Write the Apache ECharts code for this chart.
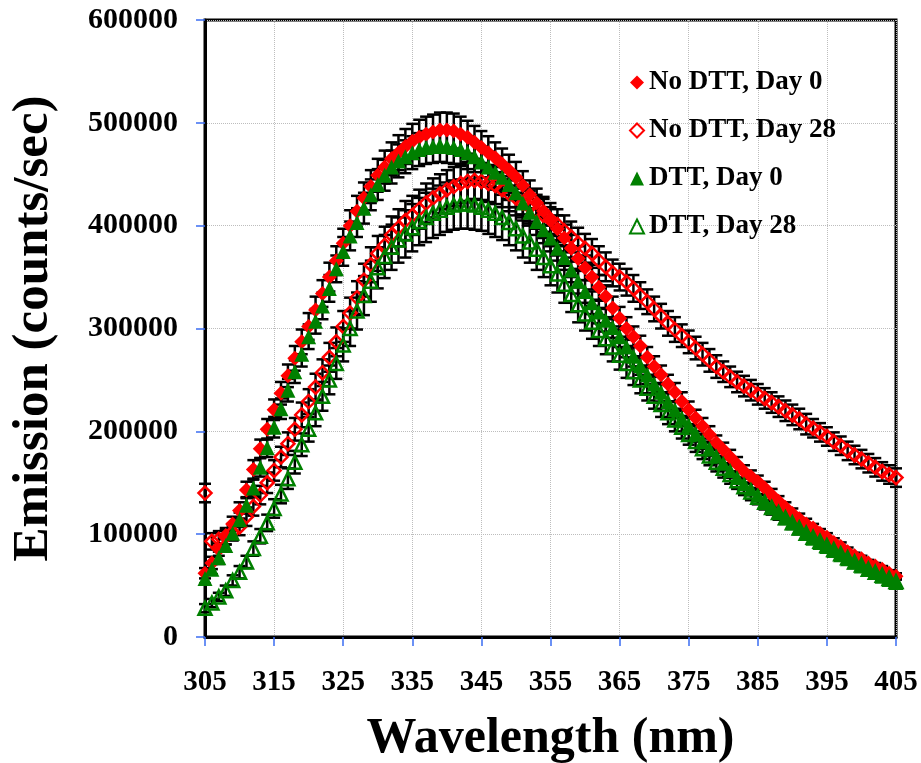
<!DOCTYPE html>
<html>
<head>
<meta charset="utf-8">
<script src="https://cdn.jsdelivr.net/npm/echarts@6/dist/echarts.min.js"></script>
<style>
html,body{margin:0;padding:0;background:#fff;}
#chart{width:921px;height:763px;}
</style>
</head>
<body>
<div id="chart"></div>
<script>
const wavelengths = [305,306,307,308,309,310,311,312,313,314,315,316,317,318,319,320,321,322,323,324,325,326,327,328,329,330,331,332,333,334,335,336,337,338,339,340,341,342,343,344,345,346,347,348,349,350,351,352,353,354,355,356,357,358,359,360,361,362,363,364,365,366,367,368,369,370,371,372,373,374,375,376,377,378,379,380,381,382,383,384,385,386,387,388,389,390,391,392,393,394,395,396,397,398,399,400,401,402,403,404,405];

const noDttDay0 = [62000,72000,85000,97000,110000,
123000,143000,163000,183000,202000,
221000,237000,254000,271000,287000,
302000,318000,334000,350000,366000,
383000,400000,414000,427000,438000,
449000,457000,465000,471000,477000,
482000,486000,489000,491000,493000,
493000,492000,489000,486000,481000,
476000,471000,466000,460000,454000,
447000,439000,430000,422000,414000,
405000,397000,388000,378000,368000,
359000,350000,340000,331000,320000,
310000,300000,292000,283000,272000,
263000,255000,246000,238000,229000,
221000,213000,205000,197000,189000,
182000,175000,168000,161000,156000,
151000,145000,138000,132000,126000,
120000,115000,110000,106000,101000,
97000,92000,88000,83000,79000,
76000,72000,69000,66000,62000,59000];

const noDttDay28 = [140000,93000,95000,98000,102000,
107000,117000,127000,138000,150000,
162000,175000,188000,202000,216000,
229000,243000,257000,272000,287000,
302000,315000,330000,347000,362000,
373000,381000,391000,398000,405000,
410000,416000,422000,427000,431000,
435000,438000,441000,443000,444000,
443000,441000,439000,435000,431000,
427000,422000,418000,414000,410000,
406000,401000,395000,389000,383000,
378000,373000,366000,360000,354000,
350000,345000,339000,332000,326000,
319000,312000,305000,299000,293000,
287000,281000,275000,269000,263000,
258000,253000,248000,244000,240000,
236000,232000,228000,224000,220000,
216000,212000,207000,203000,199000,
195000,190000,186000,181000,177000,
173000,169000,165000,161000,158000,155000];

const dttDay0 = [57000,66000,77000,89000,101000,
114000,128000,145000,165000,184000,
204000,222000,240000,258000,275000,
292000,307000,322000,339000,358000,
375000,390000,403000,417000,430000,
440000,449000,457000,463000,467000,
471000,474000,476000,477000,478000,
477000,476000,474000,471000,467000,
462000,457000,452000,447000,440000,
432000,422000,413000,404000,396000,
388000,378000,369000,357000,346000,
336000,325000,316000,308000,301000,
292000,282000,273000,264000,255000,
246000,238000,229000,221000,213000,
206000,198000,190000,183000,176000,
169000,162000,155000,149000,144000,
138000,132000,127000,121000,116000,
111000,106000,101000,96000,92000,
88000,84000,80000,76000,73000,
69000,66000,63000,59000,56000,53000];

const dttDay28 = [28000,33000,39000,45000,55000,
63000,73000,86000,98000,111000,
125000,139000,154000,170000,187000,
202000,218000,234000,250000,266000,
284000,300000,317000,332000,346000,
359000,370000,379000,386000,392000,
398000,404000,408000,412000,415000,
418000,420000,421000,421000,420000,
418000,415000,412000,408000,403000,
397000,390000,384000,377000,369000,
361000,353000,343000,333000,323000,
314000,306000,298000,290000,282000,
274000,266000,258000,250000,242000,
234000,226000,218000,211000,204000,
197000,190000,183000,176000,170000,
164000,158000,152000,146000,141000,
136000,131000,126000,121000,116000,
111000,106000,101000,97000,93000,
89000,85000,81000,77000,73000,
70000,66000,63000,60000,57000,54000];

const errNoDttDay0 = [5000,6000,6000,7000,7000,
8000,8000,9000,9000,10000,
10000,11000,11000,12000,12000,
13000,13000,13000,14000,14000,
14000,15000,15000,15000,16000,
16000,16000,16000,17000,17000,
17000,17000,17000,17000,17000,
17000,17000,17000,16000,16000,
16000,16000,15000,15000,15000,
15000,14000,14000,14000,14000,
13000,13000,13000,13000,12000,
12000,12000,12000,11000,11000,
11000,11000,10000,10000,10000,
10000,9000,9000,9000,9000,
8000,8000,8000,8000,7000,
7000,7000,7000,6000,6000,
6000,6000,6000,5000,5000,
5000,5000,5000,4000,4000,
4000,4000,4000,4000,3000,
3000,3000,3000,3000,3000,3000];

const errNoDttDay28 = [9000,8000,8000,8000,8000,
8000,9000,9000,9000,10000,
10000,10000,11000,11000,12000,
12000,13000,13000,14000,14000,
15000,15000,16000,16000,17000,
17000,18000,18000,18000,19000,
19000,19000,19000,19000,19000,
19000,19000,19000,19000,18000,
18000,18000,18000,17000,17000,
17000,17000,16000,16000,16000,
16000,15000,15000,15000,15000,
14000,14000,14000,14000,13000,
13000,13000,13000,13000,12000,
12000,12000,12000,12000,11000,
11000,11000,11000,11000,11000,
10000,10000,10000,10000,10000,
10000,10000,10000,10000,10000,
10000,10000,10000,9000,9000,
9000,9000,9000,9000,9000,
9000,9000,9000,9000,9000,9000];

const errDttDay0 = [5000,5000,6000,6000,7000,
7000,8000,8000,9000,9000,
10000,10000,11000,11000,12000,
12000,12000,13000,13000,13000,
14000,14000,14000,15000,15000,
15000,15000,16000,16000,16000,
16000,16000,16000,16000,16000,
16000,16000,16000,16000,15000,
15000,15000,15000,14000,14000,
14000,14000,13000,13000,13000,
13000,12000,12000,12000,12000,
11000,11000,11000,11000,10000,
10000,10000,10000,9000,9000,
9000,9000,9000,8000,8000,
8000,8000,7000,7000,7000,
7000,7000,6000,6000,6000,
6000,6000,5000,5000,5000,
5000,5000,5000,4000,4000,
4000,4000,4000,4000,3000,
3000,3000,3000,3000,3000,3000];

const errDttDay28 = [4000,4000,4000,5000,5000,
6000,6000,7000,7000,8000,
9000,9000,10000,11000,11000,
12000,13000,14000,14000,15000,
16000,17000,18000,19000,20000,
20000,21000,22000,22000,23000,
23000,23000,24000,24000,24000,
24000,24000,24000,24000,24000,
23000,23000,23000,22000,22000,
21000,21000,20000,20000,19000,
19000,18000,18000,17000,17000,
16000,16000,15000,15000,14000,
14000,14000,13000,13000,12000,
12000,12000,11000,11000,11000,
10000,10000,10000,9000,9000,
9000,9000,8000,8000,8000,
7000,7000,7000,7000,6000,
6000,6000,6000,5000,5000,
5000,5000,5000,5000,4000,
4000,4000,4000,4000,4000,4000];

const seriesNames = ['No DTT, Day 0', 'No DTT, Day 28', 'DTT, Day 0', 'DTT, Day 28'];
const yTicks = {min: 0, max: 600000, interval: 100000};
const xTicks = {min: 305, max: 405, interval: 10};

const FONT = 'Liberation Serif';
const RED = '#ff0000';
const GREEN = '#008000';

function pairs(vals) { return wavelengths.map((w, i) => [w, vals[i]]); }
function errPairs(vals, errs) { return wavelengths.map((w, i) => [w, vals[i] - errs[i], vals[i] + errs[i]]); }

function renderErr(params, api) {
  const x = api.value(0), lo = api.value(1), hi = api.value(2);
  const pLo = api.coord([x, lo]), pHi = api.coord([x, hi]);
  const w = 6;
  const style = {stroke: '#000', lineWidth: 2.5};
  return {type: 'group', children: [
    {type: 'line', shape: {x1: pLo[0], y1: pLo[1], x2: pHi[0], y2: pHi[1]}, style: style},
    {type: 'line', shape: {x1: pLo[0] - w, y1: pLo[1], x2: pLo[0] + w, y2: pLo[1]}, style: style},
    {type: 'line', shape: {x1: pHi[0] - w, y1: pHi[1], x2: pHi[0] + w, y2: pHi[1]}, style: style}
  ]};
}

function errSeries(vals, errs) {
  return {type: 'custom', renderItem: renderErr, data: errPairs(vals, errs),
    encode: {x: 0, y: [1, 2]}, z: 1, silent: true, clip: false};
}

const chart = echarts.init(document.getElementById('chart'), null, {renderer: 'canvas'});
chart.setOption({
  animation: false,
  backgroundColor: '#fff',
  grid: {left: 205, right: 25, top: 20, bottom: 126, show: true, borderColor: '#000', borderWidth: 3, outerBoundsMode: 'none', containLabel: false},
  legend: {
    data: seriesNames, orient: 'vertical', left: 624, top: 64, itemGap: 21,
    itemWidth: 14, itemHeight: 14, itemTextGap: 13,
    textStyle: {fontFamily: FONT, fontWeight: 'bold', fontSize: 27, color: '#000'}
  },
  xAxis: {
    type: 'value', min: xTicks.min, max: xTicks.max, interval: xTicks.interval,
    name: 'Wavelength (nm)', nameLocation: 'middle', nameGap: 77,
    nameTextStyle: {fontFamily: FONT, fontWeight: 'bold', fontSize: 50, color: '#000'},
    axisLine: {show: true, onZero: false, lineStyle: {color: '#000', width: 3}},
    axisTick: {show: true, inside: false, length: 9, lineStyle: {color: '#3b6df2', width: 1.5}},
    axisLabel: {margin: 31, fontFamily: FONT, fontWeight: 'bold', fontSize: 29, color: '#000',
      formatter: v => String(v)},
    splitLine: {show: true, lineStyle: {color: '#bdbdbd', type: 'dotted', width: 1}}
  },
  yAxis: {
    type: 'value', min: yTicks.min, max: yTicks.max, interval: yTicks.interval,
    name: 'Emission (counts/sec)', nameLocation: 'middle', nameGap: 146, nameRotate: 90,
    nameTextStyle: {fontFamily: FONT, fontWeight: 'bold', fontSize: 51, color: '#000'},
    axisLine: {show: true, onZero: false, lineStyle: {color: '#000', width: 3}},
    axisTick: {show: true, inside: false, length: 9, lineStyle: {color: '#3b6df2', width: 1.5}},
    axisLabel: {margin: 27, fontFamily: FONT, fontWeight: 'bold', fontSize: 30, color: '#000',
      formatter: v => String(v)},
    splitLine: {show: true, lineStyle: {color: '#bdbdbd', type: 'dotted', width: 1}}
  },
  series: [
    errSeries(noDttDay0, errNoDttDay0),
    errSeries(noDttDay28, errNoDttDay28),
    errSeries(dttDay0, errDttDay0),
    errSeries(dttDay28, errDttDay28),
    {name: seriesNames[0], type: 'scatter', data: pairs(noDttDay0), symbol: 'diamond', symbolSize: 15,
      itemStyle: {color: RED, opacity: 1}, z: 3, clip: false},
    {name: seriesNames[1], type: 'scatter', data: pairs(noDttDay28), symbol: 'diamond', symbolSize: 13,
      itemStyle: {color: 'rgba(255,255,255,0)', borderColor: RED, borderWidth: 2.5, opacity: 1}, z: 3, clip: false},
    {name: seriesNames[2], type: 'scatter', data: pairs(dttDay0), symbol: 'triangle', symbolSize: 15,
      itemStyle: {color: GREEN, opacity: 1}, z: 3, clip: false},
    {name: seriesNames[3], type: 'scatter', data: pairs(dttDay28), symbol: 'triangle', symbolSize: 13,
      itemStyle: {color: 'rgba(255,255,255,0)', borderColor: GREEN, borderWidth: 2.5, opacity: 1}, z: 3, clip: false}
  ]
});
</script>
</body>
</html>
